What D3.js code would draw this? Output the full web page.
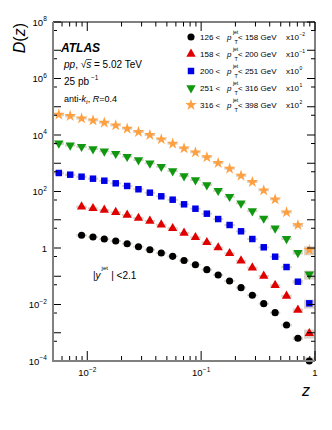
<!DOCTYPE html>
<html>
<head>
<meta charset="utf-8">
<script src="https://cdn.jsdelivr.net/npm/d3@7"></script>
<style>
  html, body { margin: 0; padding: 0; background: #fff; }
  svg { display: block; font-family: "Liberation Sans", Arial, Helvetica, sans-serif; }
  text { white-space: pre; }
</style>
</head>
<body>
<svg id="chart" width="332" height="430"></svg>
<script>
// bin edges in z (log spaced, 10 per decade)
var zEdges = [0.00501, 0.00631, 0.00794, 0.01, 0.0126, 0.0158, 0.02, 0.0251, 0.0316, 0.0398, 0.0501,
  0.0631, 0.0794, 0.1, 0.126, 0.158, 0.2, 0.251, 0.316, 0.398, 0.501, 0.631, 0.794, 1.0];

// D(z) per pT bin, before the x10^n offsets (null = no point)
var d126 = [null, null, 282, 245, 208, 177, 142, 111, 87.1, 66.5, 50.8, 36.1, 25.6, 17.1, 11.1, 6.79, 3.94, 2.12, 1.07, 0.513, 0.188, 0.0637, 0.0100];
var d158 = [null, null, 290, 254, 221, 184, 147, 115, 90.4, 66.8, 49.8, 34.0, 23.9, 15.9, 10.3, 6.49, 3.55, 2.01, 1.02, 0.479, 0.200, 0.0638, 0.00957];
var d200 = [452, 394, 334, 284, 241, 195, 157, 120, 90.8, 67.6, 51.3, 35.2, 24.6, 16.4, 10.6, 6.52, 3.90, 2.08, 1.06, 0.492, 0.212, 0.0641, 0.0110];
var d251 = [508, 432, 385, 319, 265, 218, 171, 130, 99.5, 75.5, 53.2, 35.4, 25.5, 17.0, 10.7, 6.55, 3.82, 2.04, 1.12, 0.498, 0.213, 0.068, 0.0117];
var d316 = [524, 471, 390, 331, 272, 220, 167, 128, 100, 70.5, 49.2, 33.8, 24.4, 16.3, 10.2, 6.41, 3.62, 2.17, 1.10, 0.53, 0.184, 0.065, 0.0085];

// relative systematic uncertainty per z bin
var syst = [0.12, 0.10, 0.10, 0.08, 0.08, 0.08, 0.08, 0.08, 0.08, 0.08, 0.08, 0.08,
  0.08, 0.08, 0.08, 0.08, 0.08, 0.08, 0.08, 0.08, 0.10, 0.14, 0.35];

var ptLow = ["126", "158", "200", "251", "316"];
var ptHigh = ["158", "200", "251", "316", "398"];
var scaleExp = [-2, -1, 0, 1, 2];
var seriesData = [d126, d158, d200, d251, d316];
var colors = ["#000000", "#e00000", "#0000e6", "#109810", "#ffa040"];
var shapes = ["circle", "triangle", "square", "triangleDown", "star"];

var yTickExp = [-4, -2, 0, 2, 4, 6, 8];
var xTickExp = [-2, -1, 0];

var margin = {top: 22, right: 17, bottom: 69, left: 53},
  width = 332, height = 430;

var svg = d3.select("#chart");

var x = d3.scaleLog().domain([0.005, 1]).range([margin.left, width - margin.right]);
var y = d3.scaleLog().domain([1e-4, 1e8]).range([height - margin.bottom, margin.top]);

var x0 = x.range()[0], x1 = x.range()[1], yb = y.range()[0], yt = y.range()[1];

// helper: lays out runs of text one after the other
function drawRuns(parent, xs, ys, runs, size) {
  var cx = xs;
  runs.forEach(function(r) {
    if (r.gap) cx += r.gap;
    var t = parent.append("text")
      .attr("x", cx)
      .attr("y", ys + (r.dy || 0))
      .attr("font-size", r.size || size)
      .attr("font-style", r.it ? "italic" : "normal")
      .attr("font-weight", r.b ? "bold" : "normal")
      .attr("fill", "#000")
      .text(r.t);
    var w = t.node().getComputedTextLength();
    if (!r.hold) cx += w;
  });
  return cx;
}
function powLabel(e) {
  if (e === 0) return [{t: "1"}];
  return [{t: "10"}, {t: String(e).replace("-", "\u2212"), size: 6.5, dy: -4.5, gap: 0.3}];
}

// systematic boxes (clipped to frame)
svg.append("clipPath").attr("id", "frame")
  .append("rect").attr("x", x0).attr("y", yt).attr("width", x1 - x0).attr("height", yb - yt);

var boxes = svg.append("g").attr("clip-path", "url(#frame)");
var marks = svg.append("g");

function symbolPath(shape) {
  if (shape == "circle") return d3.symbol(d3.symbolCircle, 40)();
  if (shape == "square") return d3.symbol(d3.symbolSquare, 42)();
  if (shape == "star") return d3.symbol(d3.symbolStar, 42)();
  return d3.symbol(d3.symbolTriangle, 38)();
}

seriesData.forEach(function(arr, s) {
  var f = Math.pow(10, scaleExp[s]);
  var pts = [];
  arr.forEach(function(v, i) {
    if (v == null) return;
    pts.push({i: i, v: v * f, zc: Math.sqrt(zEdges[i] * zEdges[i + 1])});
  });
  boxes.selectAll(".box" + s)
    .data(pts)
    .enter()
    .append("rect")
    .attr("x", function(d) { return x(zEdges[d.i]) + 0.5; })
    .attr("width", function(d) { return x(zEdges[d.i + 1]) - x(zEdges[d.i]) - 1; })
    .attr("y", function(d) { return y(d.v * (1 + syst[d.i])); })
    .attr("height", function(d) { return Math.max(1.5, y(d.v * (1 - syst[d.i])) - y(d.v * (1 + syst[d.i]))); })
    .attr("fill", "#c9bdb1")
    .attr("fill-opacity", 0.7);

  marks.selectAll(".pt" + s)
    .data(pts)
    .enter()
    .append("path")
    .attr("d", symbolPath(shapes[s]))
    .attr("transform", function(d) { return "translate(" + x(d.zc) + "," + y(d.v) + ")" + (shapes[s] == "triangleDown" ? " rotate(180)" : ""); })
    .attr("fill", colors[s]);
});

// frame
var axes = svg.append("g");
axes.append("line").attr("x1", x0).attr("x2", x1).attr("y1", yt).attr("y2", yt).attr("stroke", "#000").attr("stroke-width", 1);
axes.append("line").attr("x1", x1).attr("x2", x1).attr("y1", yt).attr("y2", yb).attr("stroke", "#000").attr("stroke-width", 1);

// x ticks (bottom pointing up, top pointing down)
var xTicks = [];
[-3, -2, -1].forEach(function(e) {
  for (var m = 1; m <= 9; m++) {
    var v = m * Math.pow(10, e);
    if (v > 0.0051 && v <= 1) xTicks.push({v: v, major: m == 1});
  }
});
xTicks.push({v: 1, major: true});
xTicks.forEach(function(t) {
  var len = t.major ? 10 : 5;
  axes.append("line").attr("x1", x(t.v)).attr("x2", x(t.v)).attr("y1", yb).attr("y2", yb - len).attr("stroke", "#000");
  axes.append("line").attr("x1", x(t.v)).attr("x2", x(t.v)).attr("y1", yt).attr("y2", yt + len * 0.9).attr("stroke", "#000");
});

// y ticks (left pointing right, right pointing left)
var yTicks = [];
for (var e = -4; e <= 8; e++) {
  yTicks.push({v: Math.pow(10, e), len: 8});
  if (e < 8) yTicks.push({v: 5 * Math.pow(10, e), len: 4});
}
yTicks.forEach(function(t) {
  axes.append("line").attr("x1", x0).attr("x2", x0 + t.len).attr("y1", y(t.v)).attr("y2", y(t.v)).attr("stroke", "#000");
  axes.append("line").attr("x1", x1).attr("x2", x1 - t.len).attr("y1", y(t.v)).attr("y2", y(t.v)).attr("stroke", "#000");
});

// gray left and bottom axis lines
axes.append("line").attr("x1", x0).attr("x2", x0).attr("y1", yt).attr("y2", yb + 1).attr("stroke", "#808080").attr("stroke-width", 2);
axes.append("line").attr("x1", x0 - 1).attr("x2", x1).attr("y1", yb).attr("y2", yb).attr("stroke", "#808080").attr("stroke-width", 2);

// tick labels
var labels = svg.append("g");
yTickExp.forEach(function(e) {
  var g = labels.append("g");
  var end = drawRuns(g, 0, 0, powLabel(e), 9.5);
  g.attr("transform", "translate(" + (47 - end) + "," + (y(Math.pow(10, e)) + 3.5) + ")");
});
xTickExp.forEach(function(e) {
  var g = labels.append("g");
  var end = drawRuns(g, 0, 0, powLabel(e), 9.5);
  g.attr("transform", "translate(" + (x(Math.pow(10, e)) - end / 2) + "," + 376 + ")");
});

// axis titles
svg.append("text")
  .attr("transform", "translate(25," + (yt + 1) + ") rotate(-90)")
  .attr("text-anchor", "end")
  .attr("font-size", 16)
  .html('<tspan font-style="italic">D</tspan>(<tspan font-style="italic">z</tspan>)');
svg.append("text")
  .attr("x", 310).attr("y", 396)
  .attr("text-anchor", "end")
  .attr("font-size", 16)
  .attr("font-style", "italic")
  .text("z");

// ATLAS labels
var info = svg.append("g");
drawRuns(info, 61, 52, [{t: "ATLAS", b: true, it: true}], 12);
var pe = drawRuns(info, 64, 68, [{t: "pp", it: true}, {t: ", \u221a"}], 10);
var se = drawRuns(info, pe, 68, [{t: "s", it: true}], 10);
info.append("line").attr("x1", pe).attr("x2", se + 0.5).attr("y1", 59.5).attr("y2", 59.5).attr("stroke", "#000").attr("stroke-width", 0.7);
drawRuns(info, se, 68, [{t: " = 5.02 TeV"}], 10);
drawRuns(info, 64, 85, [{t: "25 pb"}, {t: "\u22121", size: 6.5, dy: -5, gap: 2}], 10);
drawRuns(info, 64, 102, [{t: "anti-"}, {t: "k", it: true}, {t: "t", it: true, size: 6, dy: 2}, {t: ", "}, {t: "R", it: true}, {t: "=0.4"}], 9);
drawRuns(info, 93, 279, [{t: "|"}, {t: "y", it: true}, {t: "jet", size: 6, dy: -9, gap: 1}, {t: " | <2.1", gap: 0.5}], 10);

// legend
var legend = svg.append("g");
ptLow.forEach(function(lo, s) {
  var cy = 37 + 17 * s;
  legend.append("path")
    .attr("d", symbolPath(shapes[s]))
    .attr("transform", "translate(191," + cy + ")" + (shapes[s] == "triangleDown" ? " rotate(180)" : ""))
    .attr("fill", colors[s]);
  var ex = scaleExp[s] < 0 ? "\u2212" + (-scaleExp[s]) : String(scaleExp[s]);
  var by = cy + 3;
  drawRuns(legend, 200, by, [{t: lo + " <"}], 8);
  drawRuns(legend, 227, by, [{t: "p", it: true}, {t: "jet", size: 5, dy: -6, gap: 1.5, hold: true}, {t: "T", size: 5.5, dy: 4, gap: 1.5}], 8);
  drawRuns(legend, 238, by, [{t: "< " + ptHigh[s] + " GeV"}], 8);
  drawRuns(legend, 286, by, [{t: "x10"}, {t: ex, size: 5, dy: -4, gap: 0.5}], 8);
});
</script>
</body>
</html>
